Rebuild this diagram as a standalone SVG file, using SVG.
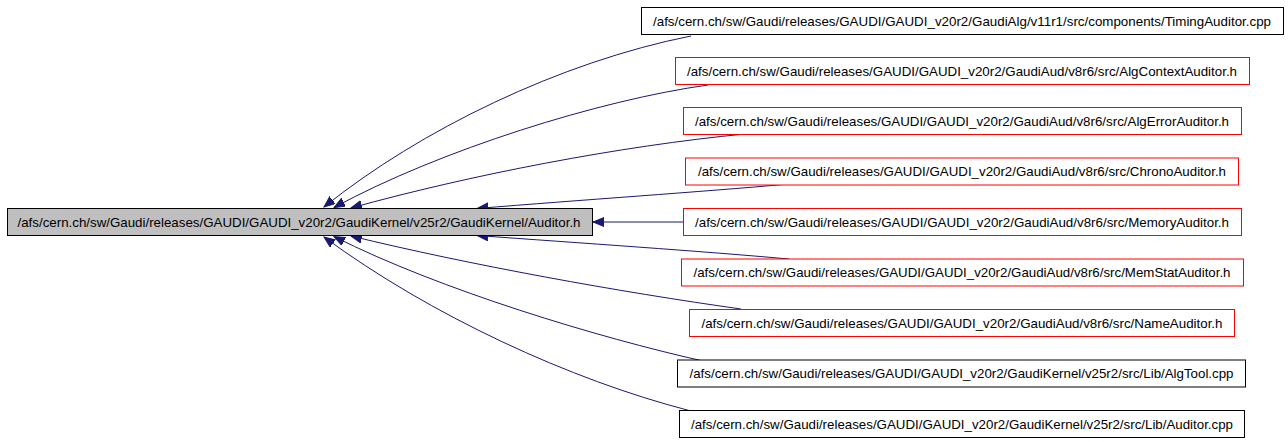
<svg xmlns="http://www.w3.org/2000/svg" width="1288" height="442" viewBox="0 0 1288 442">
<style>
.box{fill:#ffffff;stroke:#000000;stroke-width:1}
.red{fill:#ffffff;stroke:#ff0000;stroke-width:1}
.main{fill:#bfbfbf;stroke:#000000;stroke-width:1}
text{font-family:"Liberation Sans",Arial,sans-serif;font-size:13.5px;fill:#000000;text-anchor:middle}
.edge{fill:none;stroke:#191970;stroke-width:1;marker-end:url(#ah)}
</style>
<defs>
<marker id="ah" markerWidth="12" markerHeight="10" refX="11" refY="4.5" orient="auto" markerUnits="userSpaceOnUse">
<path d="M0,0 L11,4.5 L0,9 Z" fill="#191970" stroke="#191970"/>
</marker>
</defs>
<g id="connectors">
<path class="edge" d="M691,36 C560,62 420,130 324,207"/>
<path class="edge" d="M708,85 C600,100 440,150 334,207.5"/>
<path class="edge" d="M745,134 C620,146 470,175 351,208"/>
<path class="edge" d="M789,184 C700,192 580,200 477,208.5"/>
<path class="edge" d="M683,222 L593,222"/>
<path class="edge" d="M789,259 C700,251 580,243 477,235.5"/>
<path class="edge" d="M741,309 C620,292 470,265 351,236"/>
<path class="edge" d="M703,361 C600,338 440,290 334,236.5"/>
<path class="edge" d="M691,411 C570,380 430,315 324,237"/>
</g>
<g id="n_main">
<rect class="main" x="7.5" y="208.5" width="585" height="27"/>
<text x="299" y="226.8" textLength="563" lengthAdjust="spacingAndGlyphs">/afs/cern.ch/sw/Gaudi/releases/GAUDI/GAUDI_v20r2/GaudiKernel/v25r2/GaudiKernel/Auditor.h</text>
</g>
<g id="n_timing">
<rect class="box" x="641.5" y="7.5" width="642" height="27"/>
<text x="962" y="25.8" textLength="618" lengthAdjust="spacingAndGlyphs">/afs/cern.ch/sw/Gaudi/releases/GAUDI/GAUDI_v20r2/GaudiAlg/v11r1/src/components/TimingAuditor.cpp</text>
</g>
<g id="n_algcontext">
<rect class="red" x="675.5" y="57.5" width="574" height="27"/>
<text x="962" y="75.8" textLength="550" lengthAdjust="spacingAndGlyphs">/afs/cern.ch/sw/Gaudi/releases/GAUDI/GAUDI_v20r2/GaudiAud/v8r6/src/AlgContextAuditor.h</text>
</g>
<g id="n_algerror">
<rect class="red" x="683.5" y="107.5" width="558" height="27"/>
<text x="962" y="125.8" textLength="534" lengthAdjust="spacingAndGlyphs">/afs/cern.ch/sw/Gaudi/releases/GAUDI/GAUDI_v20r2/GaudiAud/v8r6/src/AlgErrorAuditor.h</text>
</g>
<g id="n_chrono">
<rect class="red" x="685.5" y="158" width="553" height="27"/>
<text x="962" y="176.3" textLength="528" lengthAdjust="spacingAndGlyphs">/afs/cern.ch/sw/Gaudi/releases/GAUDI/GAUDI_v20r2/GaudiAud/v8r6/src/ChronoAuditor.h</text>
</g>
<g id="n_memory">
<rect class="red" x="683.5" y="208.5" width="558" height="27"/>
<text x="962" y="226.8" textLength="534" lengthAdjust="spacingAndGlyphs">/afs/cern.ch/sw/Gaudi/releases/GAUDI/GAUDI_v20r2/GaudiAud/v8r6/src/MemoryAuditor.h</text>
</g>
<g id="n_memstat">
<rect class="red" x="681.5" y="259" width="562" height="27"/>
<text x="962" y="277.3" textLength="537" lengthAdjust="spacingAndGlyphs">/afs/cern.ch/sw/Gaudi/releases/GAUDI/GAUDI_v20r2/GaudiAud/v8r6/src/MemStatAuditor.h</text>
</g>
<g id="n_name">
<rect class="red" x="689.5" y="309.5" width="545" height="27"/>
<text x="962" y="327.8" textLength="521" lengthAdjust="spacingAndGlyphs">/afs/cern.ch/sw/Gaudi/releases/GAUDI/GAUDI_v20r2/GaudiAud/v8r6/src/NameAuditor.h</text>
</g>
<g id="n_algtool">
<rect class="box" x="677.5" y="360" width="568" height="27"/>
<text x="961.5" y="378.3" textLength="544" lengthAdjust="spacingAndGlyphs">/afs/cern.ch/sw/Gaudi/releases/GAUDI/GAUDI_v20r2/GaudiKernel/v25r2/src/Lib/AlgTool.cpp</text>
</g>
<g id="n_auditorcpp">
<rect class="box" x="679.5" y="410.5" width="565" height="27"/>
<text x="962" y="428.8" textLength="542" lengthAdjust="spacingAndGlyphs">/afs/cern.ch/sw/Gaudi/releases/GAUDI/GAUDI_v20r2/GaudiKernel/v25r2/src/Lib/Auditor.cpp</text>
</g>
</svg>
